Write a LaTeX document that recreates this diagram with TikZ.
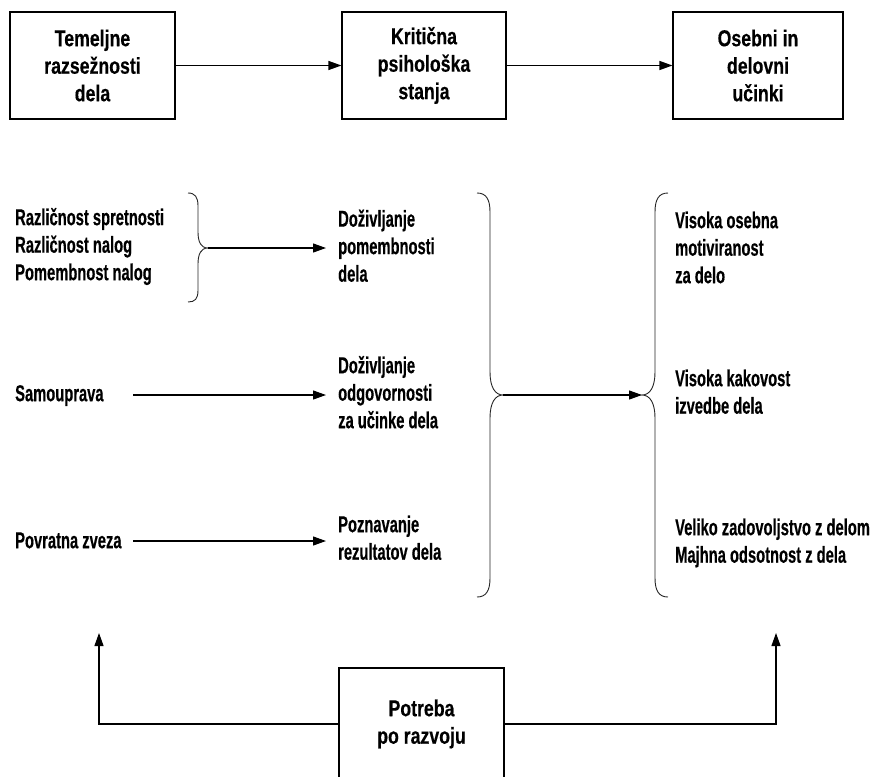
\documentclass[tikz,border=0pt]{standalone}
\usepackage{fontspec}
\setmainfont{Liberation Sans}
\newfontfamily\boxfont{Liberation Sans}[FakeStretch=0.77,FakeBold=0.4]
\newfontfamily\txtfont{Liberation Sans}[FakeStretch=0.64,FakeBold=0.4]
\newcommand\tstrut{\rule{0pt}{18pt}}
\usetikzlibrary{arrows.meta}
\begin{document}
\begin{tikzpicture}[x=1pt,y=-1pt,
  every node/.style={inner sep=0pt},
  box/.style={draw, line width=1.1pt, align=center, minimum height=107pt,
    font=\boxfont\fontsize{23}{27.5}\selectfont\bfseries},
  txt/.style={anchor=north west, align=left,
    font=\txtfont\fontsize{23}{27.5}\selectfont\bfseries},
  arr/.style={line width=1.2pt, -{Triangle[length=13pt,width=9pt]}},
  brace/.style={line width=0.9pt, black!85}]
\useasboundingbox (0,0) rectangle (877,776);
% top boxes
\node[box, minimum width=165pt] (b1) at (92.5,65.5) {Temeljne\\razsežnosti\\dela};
\node[box, minimum width=164pt] (b2) at (424,65.5) {Kritična\\psihološka\\stanja};
\node[box, minimum width=170pt] (b3) at (758,65.5) {Osebni in\\delovni\\učinki};
\draw[arr] (b1) -- (b2);
\draw[arr] (b2) -- (b3);
% left column (y = first baseline - 18)
\node[txt] (l1) at (15,207) {\tstrut Različnost spretnosti\\Različnost nalog\\Pomembnost nalog};
\node[txt] (l2) at (15,383) {\tstrut Samouprava};
\node[txt] (l3) at (15,530) {\tstrut Povratna zveza};
% middle column
\node[txt] (d1) at (338,208.5) {\tstrut Doživljanje\\pomembnosti\\dela};
\node[txt] (d2) at (338,355) {\tstrut Doživljanje\\odgovornosti\\za učinke dela};
\node[txt] (d3) at (338,514) {\tstrut Poznavanje\\rezultatov dela};
% right column
\node[txt] (r1) at (675,210) {\tstrut Visoka osebna\\motiviranost\\za delo};
\node[txt] (r2) at (675,368) {\tstrut Visoka kakovost\\izvedbe dela};
\node[txt] (r3) at (675,517) {\tstrut Veliko zadovoljstvo z delom\\Majhna odsotnost z dela};
% small brace
\coordinate (t1) at (208,248);
\draw[brace] (188,193) .. controls (195,193) and (198,197) .. (198,206) -- (198,232)
  .. controls (198,242) and (201,248) .. (t1)
  .. controls (201,248) and (198,254) .. (198,264) -- (198,290)
  .. controls (198,299) and (195,302) .. (188,302);
\coordinate (e1) at (326,248);
\draw[arr] (t1) -- (e1);
% other left arrows
\coordinate (s2) at (133,395);
\coordinate (e2) at (326,395);
\draw[arr] (s2) -- (e2);
\coordinate (s3) at (133,541);
\coordinate (e3) at (326,541);
\draw[arr] (s3) -- (e3);
% big braces
\coordinate (t2) at (503,395);
\coordinate (t3) at (642,395);
\draw[brace] (477,193) .. controls (486,193) and (490,199) .. (490,212) -- (490,372)
  .. controls (490,387) and (495,395) .. (t2)
  .. controls (495,395) and (490,403) .. (490,418) -- (490,578)
  .. controls (490,591) and (486,597) .. (477,597);
\draw[brace] (668,193) .. controls (659,193) and (655,199) .. (655,212) -- (655,372)
  .. controls (655,387) and (650,395) .. (t3)
  .. controls (650,395) and (655,403) .. (655,418) -- (655,578)
  .. controls (655,591) and (659,597) .. (668,597);
\draw[arr] (t2) -- (t3);
% bottom box
\node[box, minimum width=165pt, minimum height=112pt] (b4) at (421.5,724) {Potreba\\po razvoju};
\coordinate (u1) at (99,633);
\coordinate (u2) at (776,633);
\draw[arr] (b4.west) -| (u1);
\draw[arr] (b4.east) -| (u2);
\end{tikzpicture}
\end{document}
